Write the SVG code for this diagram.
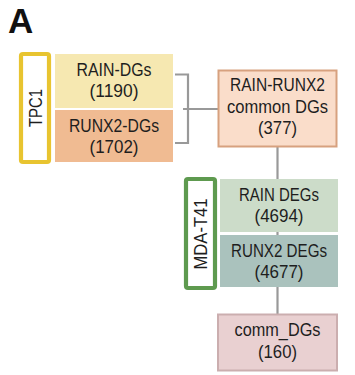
<svg xmlns="http://www.w3.org/2000/svg" width="355" height="375" viewBox="0 0 355 375">
<style>
text{font-family:"Liberation Sans",Arial,sans-serif;fill:#1e1e1e;}
.t{font-size:17.5px;text-anchor:middle;}
.v{font-size:17.5px;text-anchor:middle;}
.c{stroke:#999;stroke-width:2.2;fill:none;}
</style>
<rect width="355" height="375" fill="#fff"/>
<text x="8" y="33" style="font-size:35px;font-weight:bold;fill:#111">A</text>
<g id="connectors">
<path class="c" d="M175 74.5H188V143H175"/>
<path class="c" d="M183 109H219"/>
<path class="c" d="M277.5 147V180"/>
<path class="c" d="M277.5 230V237"/>
<path class="c" d="M277.5 287V315"/>
</g>
<g id="tpc1">
<rect x="21" y="54" width="28" height="108" rx="2" fill="#fff" stroke="#E8C430" stroke-width="4.2"/>
<text class="v" transform="translate(41.5,108) rotate(-90)" textLength="38" lengthAdjust="spacingAndGlyphs">TPC1</text>
</g>
<g id="rain-dgs">
<rect x="55" y="54" width="118" height="54" fill="#F6E8B1"/>
<text class="t" x="114" y="75.5" textLength="75" lengthAdjust="spacingAndGlyphs">RAIN-DGs</text>
<text class="t" x="114" y="97" textLength="49" lengthAdjust="spacingAndGlyphs">(1190)</text>
</g>
<g id="runx2-dgs">
<rect x="55" y="110" width="118" height="52" fill="#F0BB92"/>
<text class="t" x="114" y="131.5" textLength="90" lengthAdjust="spacingAndGlyphs">RUNX2-DGs</text>
<text class="t" x="114" y="153" textLength="49" lengthAdjust="spacingAndGlyphs">(1702)</text>
</g>
<g id="common">
<rect x="218.5" y="70.5" width="118" height="76" fill="#FADDCA" stroke="#D7A17F" stroke-width="2"/>
<text class="t" x="277.5" y="91" textLength="95" lengthAdjust="spacingAndGlyphs">RAIN-RUNX2</text>
<text class="t" x="277.5" y="112.5" textLength="101" lengthAdjust="spacingAndGlyphs">common DGs</text>
<text class="t" x="277.5" y="134" textLength="39" lengthAdjust="spacingAndGlyphs">(377)</text>
</g>
<g id="mda">
<rect x="186" y="179" width="29" height="109" rx="2" fill="#fff" stroke="#5E9A4F" stroke-width="4.2"/>
<text class="v" transform="translate(206.5,234) rotate(-90)" textLength="71" lengthAdjust="spacingAndGlyphs">MDA-T41</text>
</g>
<g id="rain-degs">
<rect x="220" y="179" width="118" height="53" fill="#CCDCC9"/>
<text class="t" x="279" y="200.5" textLength="80" lengthAdjust="spacingAndGlyphs">RAIN DEGs</text>
<text class="t" x="279" y="222" textLength="49" lengthAdjust="spacingAndGlyphs">(4694)</text>
</g>
<g id="runx2-degs">
<rect x="220" y="235" width="118" height="52" fill="#AAC2BD"/>
<text class="t" x="279" y="256.5" textLength="96" lengthAdjust="spacingAndGlyphs">RUNX2 DEGs</text>
<text class="t" x="279" y="278" textLength="49" lengthAdjust="spacingAndGlyphs">(4677)</text>
</g>
<g id="comm">
<rect x="218" y="314.5" width="119" height="56" fill="#E9D0D1" stroke="#CBAEAF" stroke-width="2"/>
<text class="t" x="277.5" y="336" textLength="86" lengthAdjust="spacingAndGlyphs">comm_DGs</text>
<text class="t" x="277.5" y="357.5" textLength="39" lengthAdjust="spacingAndGlyphs">(160)</text>
</g>
</svg>
